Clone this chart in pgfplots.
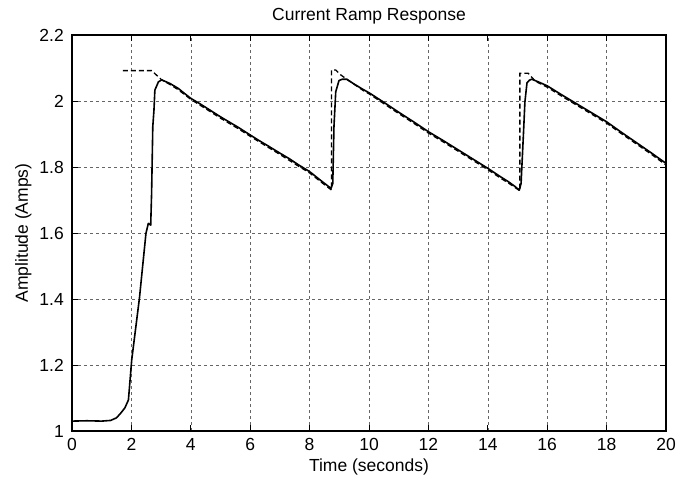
\documentclass[border=0pt]{standalone}
\usepackage{fontspec}
\setmainfont{Liberation Sans}
\usepackage{pgfplots}
\pgfplotsset{compat=1.18}
\begin{document}
\fontsize{17.5}{21}\selectfont
\begin{tikzpicture}
\begin{axis}[name=ax, width=594pt, height=396pt, scale only axis,
  xmin=0, xmax=20, ymin=1, ymax=2.2,
  xtick={0,2,4,6,8,10,12,14,16,18,20},
  ytick={1,1.2,1.4,1.6,1.8,2,2.2},
  yticklabels={1,1.2,1.4,1.6,1.8,2,2.2},
  /pgf/number format/assume math mode=true,
  tick align=inside, major tick length=6pt,
  tick style={black, line width=0.9pt},
  axis line style={line width=1.3pt},
  xtick pos=both, ytick pos=both,
  grid=major,
  grid style={black!60, dash pattern=on 3pt off 3pt, line width=0.6pt},
  title={Current Ramp Response},
  xlabel={Time (seconds)}, ylabel={Amplitude (Amps)},
  title style={at={(axis description cs:0.5,1.0227)}, anchor=base},
  xlabel style={at={(axis description cs:0.5,-0.1023)}, anchor=base},
  ylabel style={at={(axis description cs:-0.0741,0.5)}, anchor=base},
  xticklabel style={anchor=north, inner sep=0pt, yshift=-7pt},
  yticklabel style={anchor=east, inner sep=0pt, xshift=-8pt},
]
% measured response (solid)
\addplot[black, line width=1.6pt, line join=round] coordinates {
(0,1.030) (0.5,1.031) (1.0,1.030) (1.3,1.032) (1.5,1.040) (1.65,1.055) (1.78,1.070) (1.90,1.094)
(2.01,1.215) (2.27,1.402) (2.49,1.599) (2.57,1.629) (2.65,1.624) (2.68,1.720) (2.72,1.922)
(2.76,1.973) (2.79,2.033) (2.91,2.058) (3.02,2.064)
(3.3,2.053) (3.58,2.038) (3.8,2.022) (4.0,2.008) (4.3,1.992) (4.6,1.975) (5.0,1.952)
(5.3,1.936) (5.6,1.920) (6.0,1.897) (6.3,1.880) (6.6,1.864) (7.0,1.842) (7.3,1.826)
(7.6,1.808) (8.0,1.786) (8.35,1.761) (8.58,1.745) (8.72,1.735)
(8.78,1.750) (8.82,1.922) (8.88,2.028) (8.99,2.062) (9.1,2.066) (9.25,2.066) (9.47,2.053)
(9.8,2.035) (10.0,2.025) (10.5,1.996) (11.0,1.966) (11.5,1.937) (12.0,1.907) (12.5,1.880)
(13.0,1.852) (13.5,1.824) (14.0,1.796) (14.4,1.772) (14.7,1.755) (14.9,1.742) (15.06,1.730)
(15.12,1.750) (15.2,1.900) (15.25,1.998) (15.32,2.055) (15.4,2.063) (15.48,2.066) (15.7,2.058)
(16.0,2.046) (16.5,2.018) (17.0,1.991) (17.5,1.964) (18.0,1.937) (18.5,1.905)
(19.0,1.874) (19.5,1.843) (20.0,1.811)
};
% reference ramp (dashed)
\addplot[black, line width=1.3pt, dash pattern=on 5pt off 3pt] coordinates {
(1.71,2.092) (2.68,2.092) (3.02,2.064)
(3.3,2.050) (3.58,2.034) (4.0,2.005) (4.6,1.971) (5.0,1.948) (5.6,1.916) (6.0,1.893)
(6.6,1.860) (7.0,1.838) (7.6,1.804) (8.0,1.782) (8.35,1.757) (8.58,1.741) (8.74,1.730)
(8.74,2.094) (8.88,2.094) (9.05,2.079) (9.25,2.066)
(9.8,2.032) (10.0,2.022) (10.5,1.992) (11.0,1.962) (11.5,1.933) (12.0,1.903) (12.5,1.876)
(13.0,1.848) (13.5,1.820) (14.0,1.792) (14.4,1.768) (14.7,1.751) (15.08,1.728)
(15.08,2.084) (15.36,2.084) (15.6,2.060)
(16.0,2.042) (16.5,2.014) (17.0,1.987) (17.5,1.960) (18.0,1.933) (18.5,1.901)
(19.0,1.870) (19.5,1.839) (20.0,1.806)
};
\end{axis}
\path (ax.south west) ++(-72pt,-53pt) rectangle ([xshift=26pt,yshift=35pt]ax.north east);
\end{tikzpicture}
\end{document}
